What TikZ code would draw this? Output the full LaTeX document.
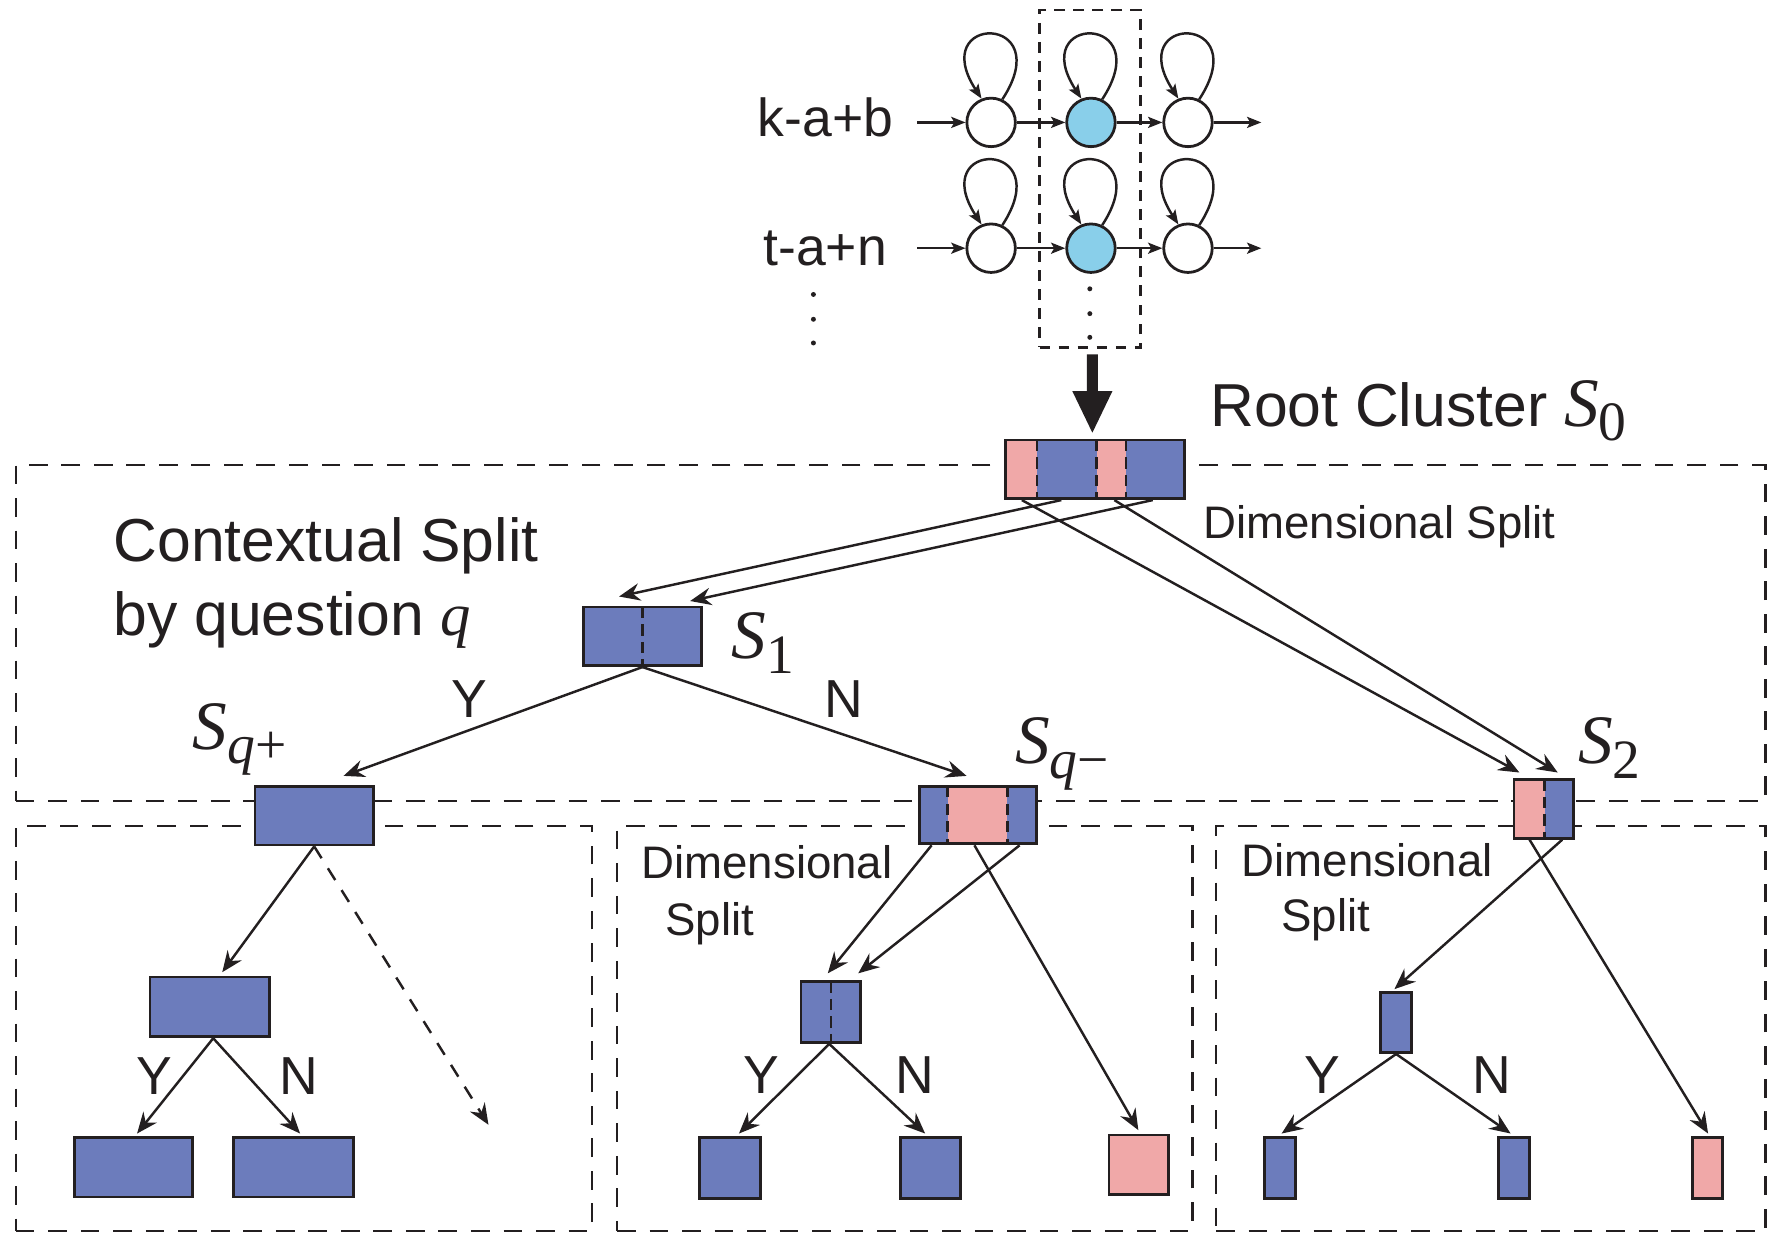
\documentclass[tikz,border=0pt]{standalone}
\usepackage{fontspec}
\setmainfont{Liberation Sans}
\newfontfamily\tms{Liberation Serif}
\usetikzlibrary{arrows.meta,calc,fit}
\definecolor{clblue}{RGB}{108,124,188}
\definecolor{clpink}{RGB}{240,168,168}
\definecolor{clcyan}{RGB}{137,207,234}
\definecolor{ink}{RGB}{35,31,32}
% cluster name: italic S with a large lowered index
\newcommand\clname[1]{{\tms\fontsize{17.5}{17.5}\selectfont\itshape S}\raisebox{-3.6pt}{\tms\fontsize{14}{14}\selectfont #1}}
\begin{document}
\begin{tikzpicture}[x=0.1mm, y=-0.1mm,
  frame/.style={draw=ink, line width=0.6pt, dash pattern=on 4.7pt off 3.5pt, inner sep=0pt},
  hmmframe/.style={draw=ink, line width=0.65pt, dash pattern=on 2.7pt off 2.1pt, inner sep=0pt},
  clbox/.style={draw=ink, line width=0.72pt, inner sep=0pt},
  bluebox/.style={clbox, fill=clblue},
  pinkbox/.style={clbox, fill=clpink},
  divider/.style={draw=ink, line width=0.65pt, dash pattern=on 2.8pt off 1.6pt},
  link/.style={draw=ink, line width=0.62pt, -{Stealth[length=5.3pt,width=4.4pt,inset=1.8pt]}},
  dashlink/.style={link, dash pattern=on 3.5pt off 3pt},
  hmmlink/.style={draw=ink, line width=0.62pt, -{Stealth[length=3.6pt,width=2.8pt,inset=0.8pt]}},
  hmmstate/.style={circle, draw=ink, line width=0.7pt, minimum size=4.3mm, inner sep=0pt, fill=white},
  bigtext/.style={font=\fontsize{15.3}{18}\selectfont, inner sep=0pt, text=ink},
  dimtext/.style={font=\fontsize{11.5}{14}\selectfont, inner sep=0pt, text=ink},
  seqtext/.style={font=\fontsize{13.5}{16}\selectfont, inner sep=0pt, text=ink},
  yn/.style={font=\fontsize{13.5}{16}\selectfont, inner sep=0pt, text=ink},
  namelab/.style={inner sep=0pt, anchor=base west, text=ink}
]
\useasboundingbox (0,0) rectangle (1568,1093);

% ---- dashed regions ----
\node[frame, fit={(14,412) (1565,710)}] (ctxframe) {};
\node[frame, fit={(14,732) (525,1091)}] (frameA) {};
\node[frame, fit={(547,732) (1057,1091)}] (frameB) {};
\node[frame, fit={(1078,732) (1565,1091)}] (frameC) {};
\node[hmmframe, fit={(921.5,9) (1011,308)}] (col) {};

% ---- split cluster fills ----
\fill[clpink] (891,390) rectangle (919,442);
\fill[clblue] (919,390) rectangle (972,442);
\fill[clpink] (972,390) rectangle (998,442);
\fill[clblue] (998,390) rectangle (1050,442);
\fill[clblue] (815,697) rectangle (840,748);
\fill[clpink] (840,697) rectangle (893,748);
\fill[clblue] (893,697) rectangle (919,748);
\fill[clpink] (1342,691) rectangle (1369,743);
\fill[clblue] (1369,691) rectangle (1395,743);

% ---- cluster boxes ----
\node[clbox, fit={(891,390) (1050,442)}] (s0) {};
\node[bluebox, fit={(517,538) (622,590)}] (s1) {};
\node[bluebox, fit={(226,697) (331,749)}] (sqp) {};
\node[clbox, fit={(815,697) (919,748)}] (sqm) {};
\node[clbox, fit={(1342,691) (1395,743)}] (s2) {};
\node[bluebox, fit={(133,866) (239,919)}] (m1) {};
\node[bluebox, fit={(66,1008) (171,1061)}] (l1a) {};
\node[bluebox, fit={(207,1008) (313,1061)}] (l1b) {};
\node[bluebox, fit={(710,870) (763,924)}] (m2) {};
\node[bluebox, fit={(620,1008) (674,1062)}] (l2a) {};
\node[bluebox, fit={(798,1008) (851,1062)}] (l2b) {};
\node[pinkbox, fit={(983,1006) (1036,1059)}] (p2) {};
\node[bluebox, fit={(1224,880) (1251,933)}] (m3) {};
\node[bluebox, fit={(1121,1008) (1148,1062)}] (l3a) {};
\node[bluebox, fit={(1328,1008) (1356,1062)}] (l3b) {};
\node[pinkbox, fit={(1500,1008) (1527,1062)}] (p3) {};

% ---- dimension dividers ----
\draw[divider] (919,390) -- (919,442);
\draw[divider] (972,390) -- (972,442);
\draw[divider] (998,390) -- (998,442);
\draw[divider] (569.5,538) -- (569.5,590);
\draw[divider] (840,697) -- (840,748);
\draw[divider] (893,697) -- (893,748);
\draw[divider] (1369,691) -- (1369,743);
\draw[divider] (736.5,870) -- (736.5,924);

% ---- root cluster feeds ----
\draw[ink, line width=2.8pt, -{Triangle[length=10.8pt,width=9.2pt]}]
  ($(col.south)+(2,5)$) -- ($(s0.north)+(-2.25,-4)$);

% ---- dimensional split of the root ----
\draw[link] ($(s0.south west)+(51,0)$) -- ($(s1.north west)+(33,-8)$);
\draw[link] ($(s0.south west)+(132,0)$) -- ($(s1.north west)+(96,-4)$);
\draw[link] ($(s0.south west)+(16,0)$) -- ($(s2.north west)+(6,-5)$);
\draw[link] ($(s0.south west)+(98,0)$) -- ($(s2.north west)+(40,-5)$);

% ---- contextual split of S1 ----
\draw[link] (s1.south) -- ($(sqp.north)+(26,-8)$);
\draw[link] (s1.south) -- ($(sqm.north west)+(43,-8)$);

% ---- subtree under S_{q+} ----
\coordinate (more) at (433,997);
\draw[link] (sqp.south) -- ($(m1.north)+(11,-3)$);
\draw[dashlink] (sqp.south) -- (more);
\draw[link] ($(m1.south)+(3,0)$) -- ($(l1a.north)+(3,-2)$);
\draw[link] ($(m1.south)+(3,0)$) -- ($(l1b.north)+(6,-2)$);

% ---- subtree under S_{q-} ----
\draw[link] ($(sqm.south west)+(12,0)$) -- ($(m2.north west)+(25,-6)$);
\draw[link] ($(sqm.south west)+(90,0)$) -- ($(m2.north west)+(52,-6)$);
\draw[link] ($(sqm.south west)+(50,0)$) -- ($(p2.north)+(-0.5,-3)$);
\draw[link] ($(m2.south)+(-1.5,0)$) -- ($(l2a.north)+(8,-2)$);
\draw[link] ($(m2.south)+(-1.5,0)$) -- ($(l2b.north)+(-4.5,-2)$);

% ---- subtree under S2 ----
\draw[link] ($(s2.south west)+(44,0)$) -- ($(m3.north)+(-1.5,-2)$);
\draw[link] ($(s2.south west)+(15,0)$) -- ($(p3.north)+(0.5,-2)$);
\draw[link] (m3.south) -- ($(l3a.north)+(1.5,-2)$);
\draw[link] (m3.south) -- ($(l3b.north)+(-3,-2)$);

% ---- HMM chains ----
\node[hmmstate] (a1) at (878.5,108.5) {};
\node[hmmstate, fill=clcyan] (a2) at (967,108.5) {};
\node[hmmstate] (a3) at (1053,108.5) {};
\node[hmmstate] (b1) at (878.5,220) {};
\node[hmmstate, fill=clcyan] (b2) at (967,220) {};
\node[hmmstate] (b3) at (1053,220) {};
\coordinate (ina) at (813,108.5);
\coordinate (outa) at (1118,108.5);
\coordinate (inb) at (813,220);
\coordinate (outb) at (1118,220);
\draw[hmmlink] (ina) -- (a1);
\draw[hmmlink] (a1) -- (a2);
\draw[hmmlink] (a2) -- (a3);
\draw[hmmlink] (a3) -- (outa);
\draw[hmmlink] (inb) -- (b1);
\draw[hmmlink] (b1) -- (b2);
\draw[hmmlink] (b2) -- (b3);
\draw[hmmlink] (b3) -- (outb);
\foreach \s in {a1,a2,a3,b1,b2,b3}
  \draw[hmmlink] (\s.64) .. controls ($(\s)+(60,-97)$) and ($(\s)+(-58,-97)$) .. (\s.112);

\node[seqtext, anchor=base west] (seqa) at (671,121) {k-a+b};
\node[seqtext, anchor=base west] (seqb) at (676,235) {t-a+n};
\foreach \y in {261,283,304} \fill[ink] (721,\y) circle (0.22mm);
\foreach \y in {256,278,299} \fill[ink] (966,\y) circle (0.22mm);

% ---- text labels ----
\node[bigtext, anchor=base west] (rootlab) at (1072,378) {Root Cluster \clname{0}};
\node[bigtext, anchor=base west] (ctxa) at (100,498) {Contextual Split};
\node[bigtext, anchor=base west] (ctxb) at (100,563) {by question {\tms\itshape q}};
\node[dimtext, anchor=base west] (dimtop) at (1066,477) {Dimensional Split};
\node[dimtext, anchor=base west] (dimba) at (568,779) {Dimensional};
\node[dimtext, anchor=base west] (dimbb) at (589,829) {Split};
\node[dimtext, anchor=base west] (dimca) at (1100,777) {Dimensional};
\node[dimtext, anchor=base west] (dimcb) at (1135,826) {Split};

\node[namelab] (s1lab) at (648,584) {\clname{1}};
\node[namelab] (sqplab) at (170,664) {\clname{{\itshape q}+}};
\node[namelab] (sqmlab) at (899,677) {\clname{{\itshape q}−}};
\node[namelab] (s2lab) at (1398,677) {\clname{2}};

\node[yn] (y1) at (416,620) {Y};
\node[yn] (n1) at (748,620) {N};
\node[yn] (y2) at (137,954) {Y};
\node[yn] (n2) at (265,954) {N};
\node[yn] (y3) at (675,953) {Y};
\node[yn] (n3) at (811,953) {N};
\node[yn] (y4) at (1172,953) {Y};
\node[yn] (n4) at (1322,953) {N};
\end{tikzpicture}
\end{document}
